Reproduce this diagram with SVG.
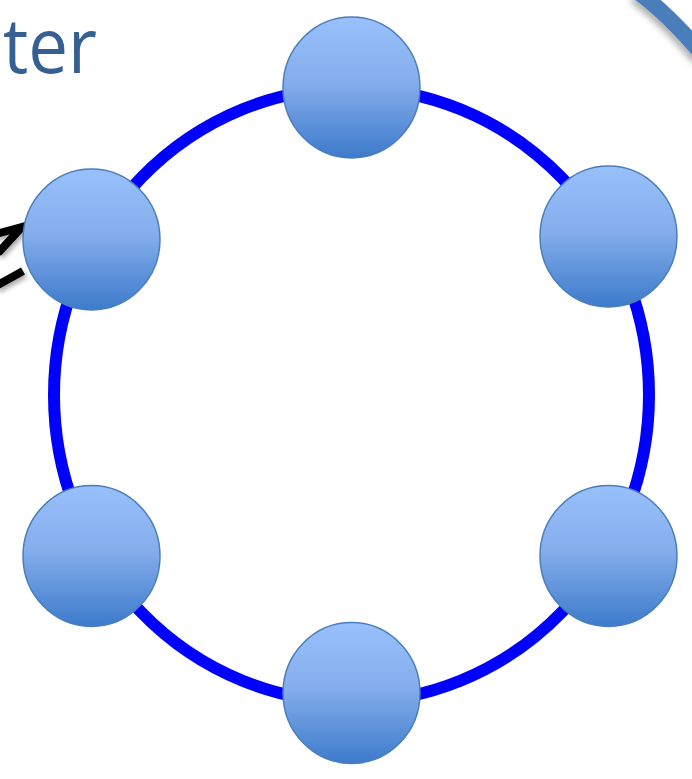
<svg xmlns="http://www.w3.org/2000/svg" width="692" height="779" viewBox="0 0 692 779">
  <defs>
    <linearGradient id="nodeGrad" x1="0" y1="0" x2="0" y2="1">
      <stop offset="0" stop-color="#98c0fb"/>
      <stop offset="0.45" stop-color="#86aeec"/>
      <stop offset="1" stop-color="#3d7bcb"/>
    </linearGradient>
    <filter id="shadow" x="-50%" y="-50%" width="200%" height="200%">
      <feDropShadow dx="2" dy="3" stdDeviation="2.5" flood-color="#000" flood-opacity="0.35"/>
    </filter>
    <filter id="arcShadow" x="-50%" y="-50%" width="200%" height="200%">
      <feDropShadow dx="-3" dy="4" stdDeviation="3" flood-color="#000" flood-opacity="0.3"/>
    </filter>
  </defs>
  <style>
    .node { fill: url(#nodeGrad); stroke: #4a7ebb; stroke-width: 1.5; }
    .ring { fill: none; stroke: #0000ff; stroke-width: 12; }
    .arrow { fill: none; stroke: #000; stroke-width: 8; stroke-linecap: butt; stroke-linejoin: miter; }
    .title { font-family: "Open Sans", "Liberation Sans", sans-serif; font-size: 76px; fill: #366092; }
  </style>
  <rect width="692" height="779" fill="#ffffff"/>

  <g id="title">
    <text class="title" x="3" y="73" textLength="94" lengthAdjust="spacingAndGlyphs">ter</text>
  </g>

  <g id="frame-arc">
    <path d="M 638 -8 Q 668 14 702 54" fill="none" stroke="#4a7ebb" stroke-width="16" filter="url(#arcShadow)"/>
  </g>

  <g id="connectors">
    <ellipse class="ring" cx="351.5" cy="395" rx="297.5" ry="307"/>
    <g filter="url(#shadow)">
      <polyline class="arrow" points="-4,234 22,227 -2,253"/>
      <line class="arrow" x1="-4" y1="286" x2="23" y2="271"/>
    </g>
  </g>

  <g id="node-top"><ellipse class="node" cx="351.5" cy="87.5" rx="68.5" ry="70.5"/></g>
  <g id="node-top-left"><ellipse class="node" cx="91.5" cy="239.5" rx="68.5" ry="70.5"/></g>
  <g id="node-top-right"><ellipse class="node" cx="608.5" cy="236.5" rx="68.5" ry="70.5"/></g>
  <g id="node-bottom-left"><ellipse class="node" cx="91.5" cy="556" rx="68.5" ry="70.5"/></g>
  <g id="node-bottom-right"><ellipse class="node" cx="608.5" cy="556" rx="68.5" ry="70.5"/></g>
  <g id="node-bottom"><ellipse class="node" cx="351.5" cy="693" rx="68.5" ry="70.5"/></g>
</svg>
